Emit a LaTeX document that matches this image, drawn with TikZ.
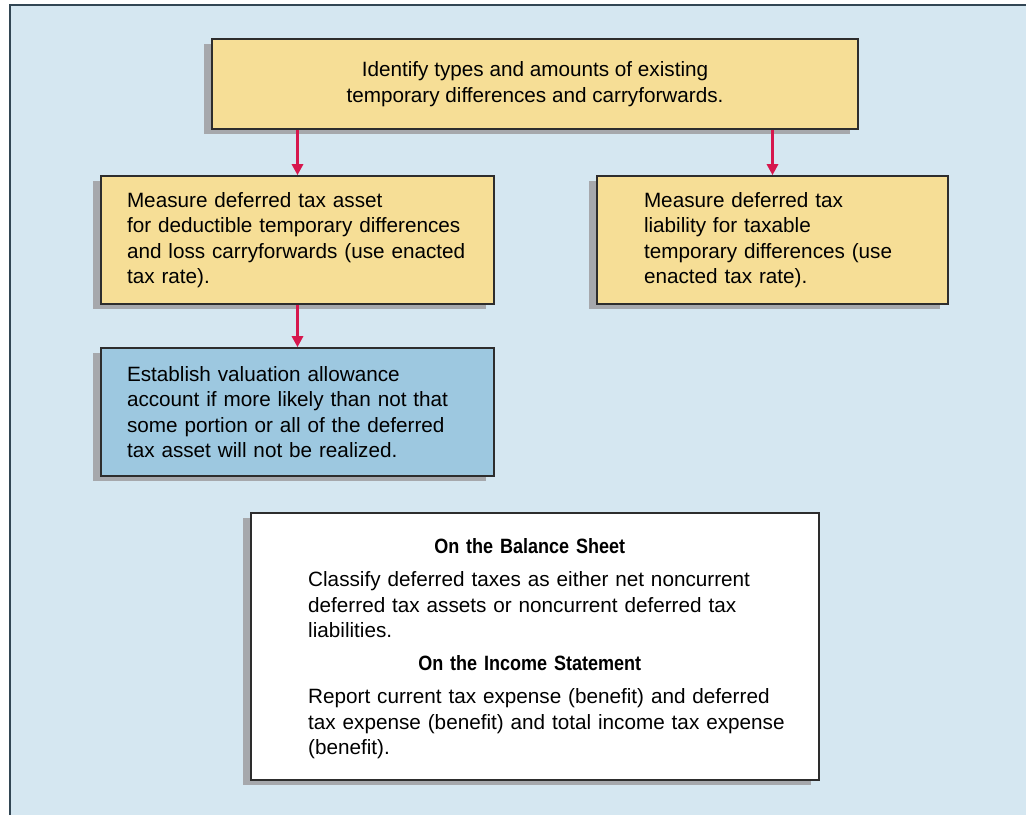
\documentclass[tikz,border=0pt]{standalone}
\usepackage{fontspec}
\setmainfont{Liberation Sans}
\newfontfamily\narrowfont[FakeStretch=0.87]{Liberation Sans}
\usepackage{xcolor}
\usetikzlibrary{positioning,arrows.meta,shadows}
\definecolor{tdpanel}{RGB}{213,231,241}
\definecolor{tdframe}{RGB}{50,70,84}
\definecolor{tdsand}{RGB}{246,222,150}
\definecolor{tdsky}{RGB}{157,200,224}
\definecolor{tdshade}{RGB}{166,168,172}
\definecolor{tdink}{RGB}{45,45,45}
\definecolor{tdred}{RGB}{214,23,77}
\tikzset{
  stepbox/.style={draw=tdink, line width=1.6pt, fill=tdsand, inner ysep=0pt,
    drop shadow={shadow xshift=-8pt, shadow yshift=-5pt, fill=tdshade, opacity=1},
    font=\fontsize{20.7}{25.4}\selectfont, text=black, align=left},
  notetext/.style={inner sep=0pt, font=\fontsize{20.7}{25.5}\selectfont, text=black,
    align=left, text width=490},
  flow/.style={draw=tdred, line width=3pt, -{Triangle[length=11pt,width=11pt]}},
}

\begin{document}
\begin{tikzpicture}[x=1pt,y=-1pt]
\useasboundingbox (0,0) rectangle (1026,815);
% panel
\fill[tdpanel] (10,5) rectangle (1026,815);
\draw[tdframe, line width=2pt] (10,815) -- (10,5) -- (1026,5);

\node[stepbox, align=center, minimum width=646, minimum height=90] (idtypes) at (535,84)
  {Identify types and amounts of existing\\temporary differences and carryforwards.};

\node[stepbox, inner xsep=26, text width=341, minimum height=128] (asset) at (297.5,240)
  {Measure deferred tax asset\\for deductible temporary differences\\and loss carryforwards (use enacted\\tax rate).};

\node[stepbox, inner xsep=47, text width=257, minimum height=128] (liab) at (772.5,240)
  {Measure deferred tax\\liability for taxable\\temporary differences (use\\enacted tax rate).};

\node[stepbox, fill=tdsky, inner xsep=26, text width=341, minimum height=128] (valuation) at (297.5,412)
  {Establish valuation allowance\\account if more likely than not that\\some portion or all of the deferred\\tax asset will not be realized.};

% statements box
\node[stepbox, fill=white, minimum width=568, minimum height=267] (report) at (535,646.5) {};
\node[notetext, anchor=north west] (reportnote) at (308,538)
  {\makebox[443pt][c]{\narrowfont\bfseries On the Balance Sheet}\\[8pt]
   Classify deferred taxes as either net noncurrent\\deferred tax assets or noncurrent deferred tax\\liabilities.\\[7.5pt]
   \makebox[443pt][c]{\narrowfont\bfseries On the Income Statement}\\[7.5pt]
   Report current tax expense (benefit) and deferred\\tax expense (benefit) and total income tax expense\\(benefit).};

\draw[flow] (asset.north |- idtypes.south) -- (asset.north);
\draw[flow] (liab.north |- idtypes.south) -- (liab.north);
\draw[flow] (asset) -- (valuation);
\end{tikzpicture}
\end{document}
